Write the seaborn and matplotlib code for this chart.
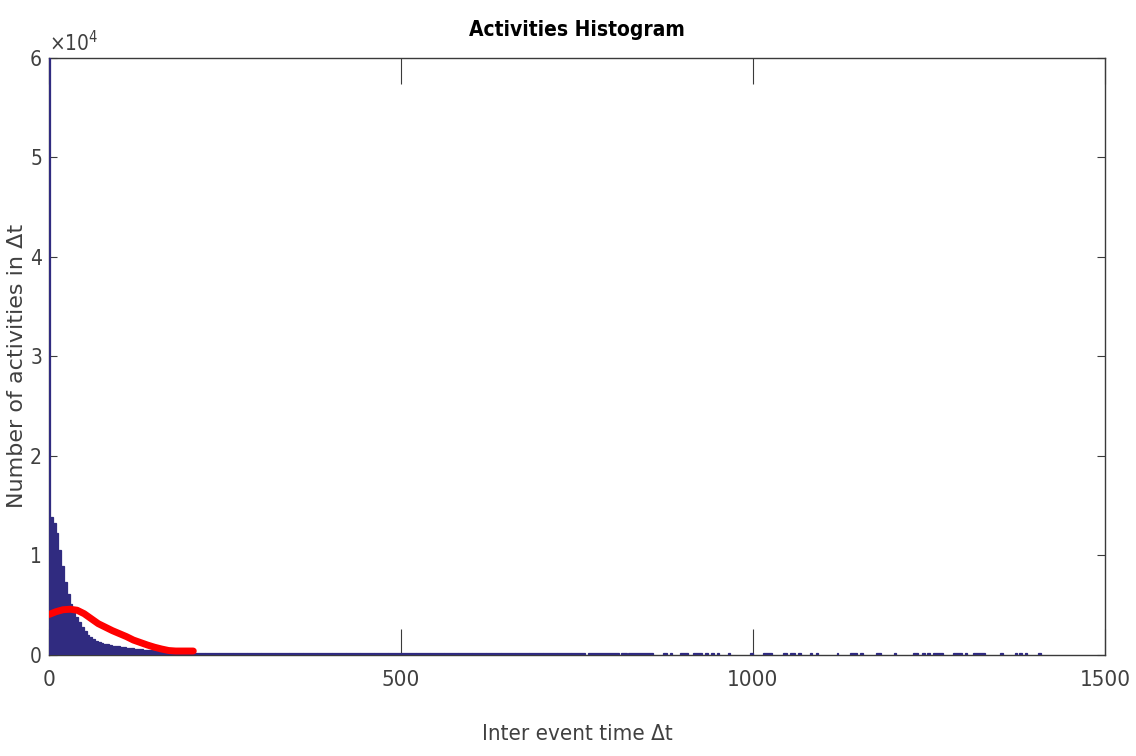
"""Inter event time histogram with a fitted curve overlay."""

import matplotlib

matplotlib.use("Agg")

import matplotlib.pyplot as plt
import numpy as np
import seaborn as sns
from matplotlib import font_manager

# --- histogram data (counts per bin) ---
FIRST_BIN_EDGES = [0.0, 1.41]
FIRST_BIN_COUNT = 62000  # overflows the 6e4 axis limit

HEAD_START = 1.41
HEAD_WIDTH = 4.0
head_counts = [
    13900, 13300, 12300, 10600, 8900, 7300, 6100, 5100, 4400, 3800,
    3300, 2800, 2400, 2050, 1800, 1600, 1450, 1330, 1220, 1130,
    1060, 1000, 950, 900, 860, 820, 780, 740, 700, 670,
    640, 610, 580, 550, 520, 490, 460, 430, 400, 370,
    340, 310, 290, 270, 250, 240, 235, 230, 225, 220,
]

MID_START = 201.41
MID_WIDTH = 20.0
mid_counts = [
    220, 215, 210, 210, 205, 205, 200, 200, 200, 200,
    200, 200, 200, 200, 200, 200, 200, 200, 200, 200,
    200, 200, 200, 200, 200, 200, 200, 200,
]

# sparse long tail: occupied bins as [left, right)
tail_left = [
    766, 812, 822, 872, 882, 896, 915, 932, 941, 949,
    965, 996, 1014, 1043, 1053, 1064, 1081, 1090, 1119, 1138,
    1152, 1175, 1200, 1227, 1240, 1247, 1256, 1284, 1301, 1313,
    1351, 1372, 1378, 1386, 1405,
]
tail_right = [
    810, 821, 858, 878, 885, 908, 928, 936, 944, 952,
    967, 1000, 1027, 1048, 1060, 1068, 1084, 1092, 1121, 1148,
    1156, 1182, 1203, 1234, 1244, 1251, 1270, 1297, 1304, 1330,
    1355, 1375, 1382, 1389, 1409,
]
tail_counts = [
    200, 200, 200, 200, 200, 200, 200, 200, 200, 200,
    200, 200, 200, 200, 200, 200, 200, 200, 200, 200,
    200, 200, 200, 200, 200, 200, 200, 200, 200, 200,
    200, 200, 200, 200, 200,
]

# --- fitted curve ---
fit_x = [0, 10, 20, 30, 40, 50, 60, 70, 80, 90, 100,
         110, 120, 130, 140, 150, 160, 170, 180, 190, 200, 205]
fit_y = [4070, 4350, 4550, 4600, 4500, 4150, 3650, 3150, 2800, 2450, 2150,
         1850, 1500, 1250, 1000, 780, 600, 450, 400, 400, 400, 400]

y_ticks = [0, 10000, 20000, 30000, 40000, 50000, 60000]
y_tick_labels = ["0", "1", "2", "3", "4", "5", "6"]
x_ticks = [0, 500, 1000, 1500]

BLUE = "#302b80"
AXIS_GRAY = "#3a3a3a"
TEXT_GRAY = "#404040"


def pick_font() -> tuple[str, str]:
    """Prefer a narrow face, the reference text is condensed."""
    fonts = font_manager.fontManager.ttflist
    names = {f.name for f in fonts}
    if "Liberation Sans Narrow" in names:
        return "Liberation Sans Narrow", "normal"
    if any(f.name == "DejaVu Sans" and f.stretch == "condensed" for f in fonts):
        return "DejaVu Sans", "condensed"
    return "DejaVu Sans", "normal"


def build_bins():
    head_edges = HEAD_START + HEAD_WIDTH * np.arange(len(head_counts) + 1)
    mid_edges = MID_START + MID_WIDTH * np.arange(len(mid_counts) + 1)
    tail_edges = [e for pair in zip(tail_left, tail_right) for e in pair]
    edges = list(FIRST_BIN_EDGES) + list(head_edges[1:]) + list(mid_edges[1:]) + tail_edges

    centers = [sum(FIRST_BIN_EDGES) / 2]
    centers += list(HEAD_START + HEAD_WIDTH * (np.arange(len(head_counts)) + 0.5))
    centers += list(MID_START + MID_WIDTH * (np.arange(len(mid_counts)) + 0.5))
    centers += [(l + r) / 2 for l, r in zip(tail_left, tail_right)]
    weights = [FIRST_BIN_COUNT] + head_counts + mid_counts + tail_counts
    return edges, centers, weights


def main() -> None:
    sns.set_theme(style="white")
    family, stretch = pick_font()
    plt.rcParams["font.family"] = [family, "DejaVu Sans"]
    plt.rcParams["font.stretch"] = stretch
    plt.rcParams["mathtext.default"] = "regular"

    fig = plt.figure(figsize=(11.36, 7.56), dpi=100)
    ax = fig.add_axes([0.0431, 0.1336, 0.9296, 0.7897])

    edges, centers, weights = build_bins()
    sns.histplot(
        x=centers, weights=weights, bins=edges, stat="count",
        color=BLUE, alpha=1, edgecolor=BLUE, linewidth=0.9, zorder=3, ax=ax,
    )
    # drop the empty gap bins so the baseline shows through
    for patch in list(ax.patches):
        if patch.get_height() == 0:
            patch.remove()

    sns.lineplot(x=fit_x, y=fit_y, color="#ff0000", linewidth=5, zorder=4, ax=ax)

    ax.set_xlim(0, 1500)
    ax.set_ylim(0, 60000)
    ax.set_xticks(x_ticks)
    ax.set_xticklabels([str(t) for t in x_ticks])
    ax.set_yticks(y_ticks)
    ax.set_yticklabels(y_tick_labels)

    for spine in ax.spines.values():
        spine.set_color(AXIS_GRAY)
        spine.set_linewidth(1.0)
        spine.set_visible(True)

    ax.tick_params(axis="both", direction="in", bottom=True, left=True, top=True, right=True,
                   colors=AXIS_GRAY, labelcolor=TEXT_GRAY, labelsize=16, width=0.8)
    ax.tick_params(axis="x", length=19, pad=11)
    ax.tick_params(axis="y", length=6, pad=5, labelsize=15)

    ax.set_title("Activities Histogram", fontsize=15, fontweight="bold", color="black", pad=16)
    ax.set_xlabel("Inter event time Δt", fontsize=16, color=TEXT_GRAY, labelpad=24)
    ax.set_ylabel("Number of activities in Δt", fontsize=16, color=TEXT_GRAY,
                  family=["DejaVu Sans"], stretch="normal")
    ax.yaxis.set_label_coords(-0.0205, 0.485)
    ax.text(0.0, 1.004, r"$\times10^{4}$", transform=ax.transAxes, ha="left", va="bottom",
            fontsize=15, color=TEXT_GRAY)

    fig.savefig("out.png", dpi=100)
    plt.close(fig)


if __name__ == "__main__":
    main()
